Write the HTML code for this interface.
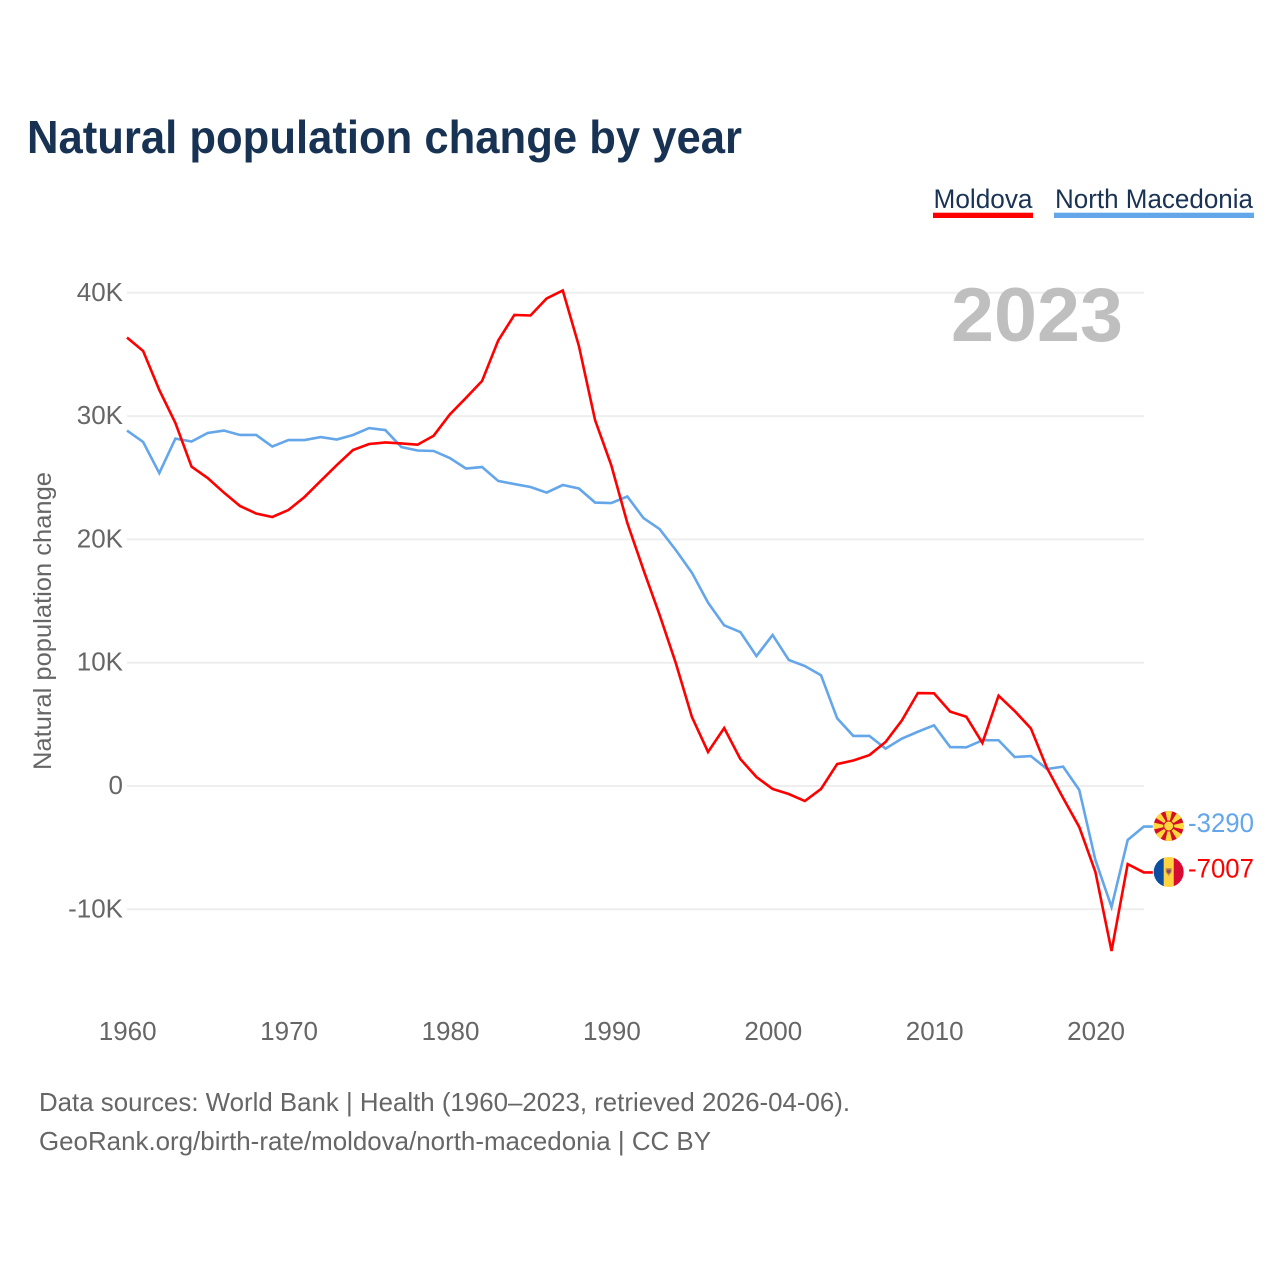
<!DOCTYPE html>
<html lang="en">
<head>
<meta charset="utf-8">
<title>Natural population change by year</title>
<style>
html,body{margin:0;padding:0;background:#fff;width:1280px;height:1280px;overflow:hidden}
svg{display:block}
text{font-family:"Liberation Sans",sans-serif}
</style>
</head>
<body>
<svg id="chart" xmlns="http://www.w3.org/2000/svg" width="1280" height="1280" viewBox="0 0 1280 1280">
  <defs>
    <clipPath id="flag-clip-mk"><circle id="clip-mk" cx="1168.7" cy="826" r="15"></circle></clipPath>
    <clipPath id="flag-clip-md"><circle id="clip-md" cx="1168.7" cy="872" r="15"></circle></clipPath>
  </defs>
  <rect width="1280" height="1280" fill="#fff"></rect>
  <text x="27" y="153" font-size="46" font-weight="700" fill="#173253" textLength="715" lengthAdjust="spacingAndGlyphs">Natural population change by year</text>

  <g>
    <text x="933.5" y="208" font-size="27" fill="#1a3354" textLength="99" lengthAdjust="spacingAndGlyphs">Moldova</text>
    <rect x="933" y="212.7" width="100" height="5.3" fill="#ff0000"></rect>
  </g>
  <g>
    <text x="1055" y="208" font-size="27" fill="#1a3354" textLength="198" lengthAdjust="spacingAndGlyphs">North Macedonia</text>
    <rect x="1054" y="212.7" width="200" height="5.3" fill="#64a6ea"></rect>
  </g>

  <g id="grid"></g>
  <g id="y-ticks"></g>
  <g id="x-ticks"></g>
  <text transform="translate(51 621) rotate(-90)" text-anchor="middle" font-size="25" fill="#666" textLength="298" lengthAdjust="spacingAndGlyphs">Natural population change</text>
  <text x="951" y="341" font-size="76" font-weight="700" fill="#bfbfbf" textLength="172" lengthAdjust="spacingAndGlyphs">2023</text>

  <g id="series"></g>

  <g id="flag-mk">
    <g clip-path="url(#flag-clip-mk)">
      <rect x="1153" y="810" width="32" height="32" fill="#d20f26"></rect>
      <g id="mk-rays" fill="#ffd83d"></g>
      <circle cx="1168.7" cy="826" r="5" fill="#ffd83d" stroke="#d20f26" stroke-width="1"></circle>
    </g>
  </g>
  <g id="flag-md">
    <g clip-path="url(#flag-clip-md)">
      <rect x="1153" y="856" width="11" height="32" fill="#0b4ea2"></rect>
      <rect x="1163.7" y="856" width="10" height="32" fill="#ffd440"></rect>
      <rect x="1173.7" y="856" width="11" height="32" fill="#d80b33"></rect>
      <path d="M1165.7 868h6v4l-3 4l-3-4z" fill="#c9964a"></path>
      <path d="M1166.7 869.5h4v2.5l-2 2l-2-2z" fill="#8a4a6e"></path>
    </g>
  </g>
  <g id="end-labels"></g>

  <text x="39" y="1111" font-size="26" fill="#666" textLength="811" lengthAdjust="spacingAndGlyphs">Data sources: World Bank | Health (1960–2023, retrieved 2026-04-06).</text>
  <text x="39" y="1150" font-size="26" fill="#666" textLength="672" lengthAdjust="spacingAndGlyphs">GeoRank.org/birth-rate/moldova/north-macedonia | CC BY</text>
</svg>
<script>
var firstYear = 1960;
var xTickYears = [1960, 1970, 1980, 1990, 2000, 2010, 2020];
var yTickValues = [40000, 30000, 20000, 10000, 0, -10000];
var yTickLabels = ["40K", "30K", "20K", "10K", "0", "-10K"];
var moldovaValues = [36370,35280,32120,29440,25900,24980,23800,22710,22100,21820,22380,23440,24740,26030,27250,27740,27860,27780,27680,28410,30130,31470,32850,36130,38200,38160,39540,40190,35680,29680,26030,21330,17520,13870,9980,5600,2760,4700,2190,730,-240,-650,-1220,-240,1780,2070,2510,3570,5300,7540,7520,6030,5620,3490,7320,6080,4680,1460,-970,-3330,-6970,-13380,-6330,-7007];
var northMacedoniaValues = [28830,27900,25380,28180,27940,28630,28830,28470,28470,27530,28060,28060,28300,28100,28470,29030,28870,27490,27210,27170,26600,25750,25870,24740,24490,24250,23800,24410,24130,22990,22950,23480,21730,20840,19140,17300,14870,13030,12490,10540,12250,10220,9730,8980,5490,4060,4060,3030,3840,4400,4920,3160,3140,3710,3710,2350,2430,1380,1570,-320,-6000,-9810,-4380,-3290];
var raySteps = [0, 1, 2, 3, 4, 5, 6, 7];

var NS = "http://www.w3.org/2000/svg";
function xScale(year) { return 127 + (year - 1960) * 16.14; }
function yScale(value) { return 786 - value * 0.01233; }
function make(tag, attrs, parent) {
  var el = document.createElementNS(NS, tag);
  for (var k in attrs) { el.setAttribute(k, attrs[k]); }
  parent.appendChild(el);
  return el;
}

var grid = document.getElementById("grid");
var yTicks = document.getElementById("y-ticks");
yTickValues.forEach(function (v, i) {
  var y = yScale(v);
  var line = make("line", { x1: 127, x2: 1144, y1: y, y2: y, stroke: "#eeeeee", "stroke-width": 2 }, grid);
  
  
  var t = make("text", { x: 123, y: y + 8, "text-anchor": "end", "font-size": 26, fill: "#666" }, yTicks);
  
  
  t.textContent = yTickLabels[i];
});

var xTicks = document.getElementById("x-ticks");
xTickYears.forEach(function (year) {
  var t = make("text", { x: xScale(year) + 0.7, y: 1040, "text-anchor": "middle", "font-size": 26, fill: "#666" }, xTicks);
  
  
  t.textContent = String(year);
});

function drawSeries(values, color, name) {
  var d = values.map(function (v, i) {
    return (i ? "L" : "M") + xScale(firstYear + i).toFixed(2) + " " + yScale(v).toFixed(2);
  }).join("");
  var lastY = yScale(values[values.length - 1]);
  var endX = xScale(firstYear + values.length - 1);
  d += "L" + (endX + 9).toFixed(2) + " " + lastY.toFixed(2);
  var p = make("path", { d: d, fill: "none", stroke: color, "stroke-width": 2.6, "stroke-linejoin": "miter" }, document.getElementById("series"));
  
  
  var t = make("text", { x: 1254, y: lastY + 5.2, "text-anchor": "end", "font-size": 26.5, fill: color, textLength: 66, lengthAdjust: "spacingAndGlyphs" }, document.getElementById("end-labels"));
  
  
  t.textContent = String(values[values.length - 1]);
}
drawSeries(northMacedoniaValues, "#64a6ea", "north-macedonia");
drawSeries(moldovaValues, "#ff0000", "moldova");

var rays = document.getElementById("mk-rays");
raySteps.forEach(function (s) {
  var r = make("path", { d: "M1168.7 826L1165 810H1172.4Z", transform: "rotate(" + (s * 45) + " 1168.7 826)" }, rays);
  
  
});
</script>
</body>
</html>
